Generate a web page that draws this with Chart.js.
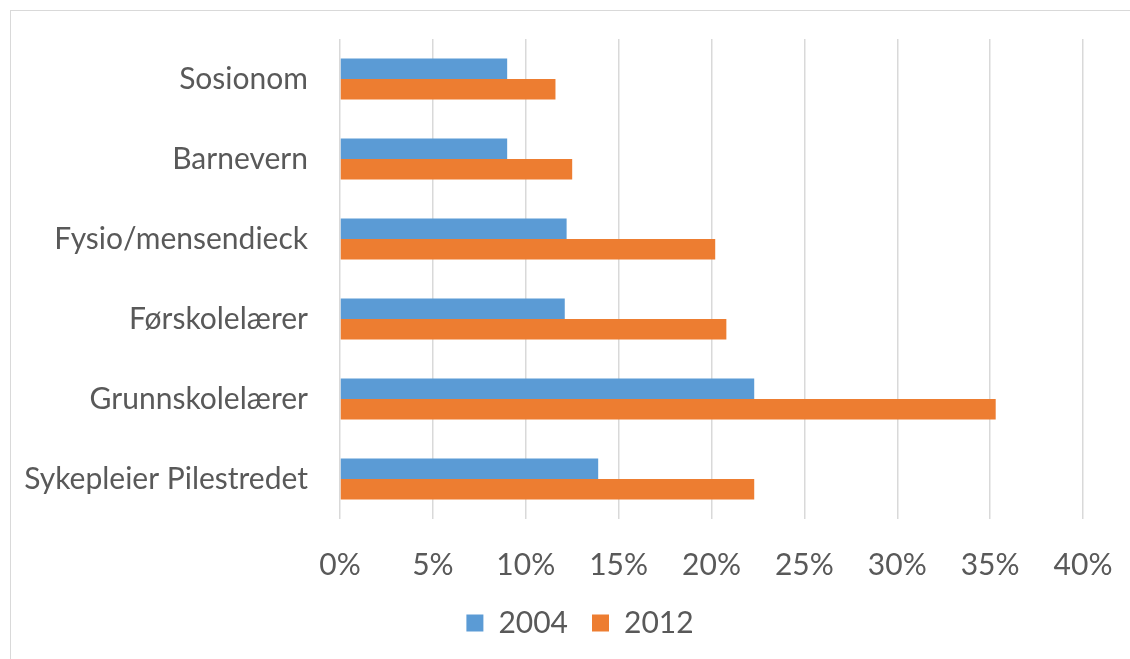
<!DOCTYPE html>
<html>
<head>
<meta charset="utf-8">
<script src="https://cdn.jsdelivr.net/npm/chart.js@4/dist/chart.umd.min.js"></script>
<style>
    html, body { margin: 0; padding: 0; background: #fff; overflow: hidden; }
    #frame {
        position: absolute; left: 10px; top: 10px;
        width: 1140px; height: 660px;
        border: 1px solid #d9d9d9; box-sizing: border-box;
    }
    #wrap { position: absolute; left: 0; top: 0; width: 1138px; height: 648px; }
</style>
</head>
<body>
<div id="frame"><div id="wrap"><canvas id="chart"></canvas></div></div>
<script>
// categories, top to bottom
const categories = ['Sosionom', 'Barnevern', 'Fysio/mensendieck', 'Førskolelærer', 'Grunnskolelærer', 'Sykepleier Pilestredet'];
const values2004 = [9.0, 9.0, 12.2, 12.1, 22.3, 13.9];
const values2012 = [11.6, 12.5, 20.2, 20.8, 35.3, 22.3];
const xTicks = [0, 5, 10, 15, 20, 25, 30, 35, 40];

const textColor = '#595959';
const font = { family: 'Lato', size: 30 };

const noPad = (scale) => {
    scale.paddingTop = 0; scale.paddingBottom = 0;
    scale.paddingLeft = 0; scale.paddingRight = 0;
};

new Chart(document.getElementById('chart'), {
    type: 'bar',
    data: {
        labels: categories,
        datasets: [{
            label: '2004',
            data: values2004,
            backgroundColor: '#5B9BD5'
        }, {
            label: '2012',
            data: values2012,
            backgroundColor: '#ED7D31'
        }]
    },
    options: {
        indexAxis: 'y',
        responsive: true,
        maintainAspectRatio: false,
        animation: false,
        layout: { padding: { top: 28, right: 0, bottom: 11, left: 0 } },
        datasets: {
            bar: { categoryPercentage: 0.5125, barPercentage: 1 }
        },
        plugins: {
            legend: {
                position: 'bottom',
                labels: {
                    color: textColor,
                    font: font,
                    boxWidth: 17,
                    boxHeight: 17,
                    padding: 24
                }
            },
            tooltip: { enabled: false }
        },
        scales: {
            x: {
                min: 0,
                max: 40,
                afterBuildTicks: (scale) => {
                    scale.ticks = xTicks.map(v => ({ value: v }));
                },
                afterFit: (scale) => { scale.height = 65; noPad(scale); },
                grid: { color: '#d9d9d9', lineWidth: 1.5, drawTicks: false },
                border: { display: false },
                ticks: {
                    color: textColor,
                    font: font,
                    padding: 28,
                    callback: v => v + '%'
                }
            },
            y: {
                afterFit: (scale) => { scale.width = 329; noPad(scale); },
                grid: { display: false, drawTicks: false },
                border: { display: false },
                ticks: { color: textColor, font: font, padding: 32 }
            },
            // empty right-hand strip so the plot ends where the reference's does
            yRight: {
                position: 'right',
                afterFit: (scale) => { scale.width = 66; noPad(scale); },
                grid: { display: false, drawTicks: false },
                border: { display: false },
                ticks: { display: false }
            }
        }
    }
});
</script>
</body>
</html>
